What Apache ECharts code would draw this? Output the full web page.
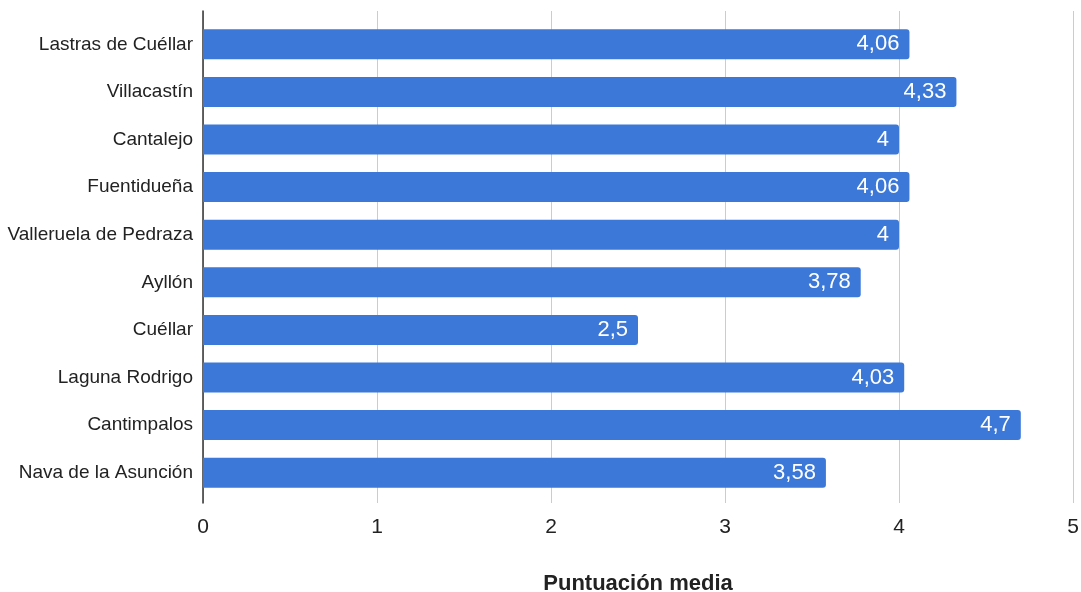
<!DOCTYPE html>
<html>
<head>
<meta charset="utf-8">
<script src="https://cdn.jsdelivr.net/npm/echarts@6/dist/echarts.min.js"></script>
<style>html,body{margin:0;padding:0;background:#fff}#c{width:1081px;height:592px}</style>
</head>
<body>
<div id="c"></div>
<script>
const categories = ["Lastras de Cuéllar","Villacastín","Cantalejo","Fuentidueña","Valleruela de Pedraza","Ayllón","Cuéllar","Laguna Rodrigo","Cantimpalos","Nava de la Asunción"];
const values = [4.06, 4.33, 4, 4.06, 4, 3.78, 2.5, 4.03, 4.7, 3.58];
const xTicks = { min: 0, max: 5, interval: 1 };
const axisTitle = "Puntuación media";

const font = "Arial, 'Liberation Sans', sans-serif";
const chart = echarts.init(document.getElementById('c'), null, {renderer: 'canvas'});
chart.setOption({
  animation: false,
  grid: [
    {left: 203, right: 8, top: 11, bottom: 89, containLabel: false, outerBoundsMode: 'none'},
    {left: 203, right: 8, top: 20.5, bottom: 95.5, containLabel: false, outerBoundsMode: 'none'}
  ],
  xAxis: [
    {gridIndex: 0, type: 'value', min: xTicks.min, max: xTicks.max, interval: xTicks.interval,
     axisLine: {show: false}, axisTick: {show: false},
     splitLine: {show: true, lineStyle: {color: '#cccccc', width: 1}},
     axisLabel: {fontSize: 21, color: '#222', fontFamily: font, margin: 14},
     name: axisTitle, nameLocation: 'middle', nameGap: 70,
     nameTextStyle: {fontSize: 22, fontWeight: 'bold', color: '#222', fontFamily: font}},
    {gridIndex: 1, type: 'value', min: xTicks.min, max: xTicks.max, show: false}
  ],
  yAxis: [
    {gridIndex: 0, type: 'value', min: 0, max: 1, axisLabel: {show: false}, axisTick: {show: false},
     splitLine: {show: false}, axisLine: {show: true, lineStyle: {color: '#333', width: 1.5}}},
    {gridIndex: 1, type: 'category', data: categories, inverse: true,
     axisLine: {show: false}, axisTick: {show: false}, splitLine: {show: false},
     axisLabel: {fontSize: 19, color: '#222', fontFamily: font, margin: 10}}
  ],
  series: [{
    type: 'bar', xAxisIndex: 1, yAxisIndex: 1, data: values, barWidth: 30,
    itemStyle: {color: '#3c78d8', borderRadius: [0, 3, 3, 0]},
    label: {show: true, position: 'insideRight', distance: 10, color: '#fff', fontSize: 22, fontFamily: font,
      formatter: p => String(p.value).replace('.', ',')}
  }]
});
</script>
</body>
</html>
